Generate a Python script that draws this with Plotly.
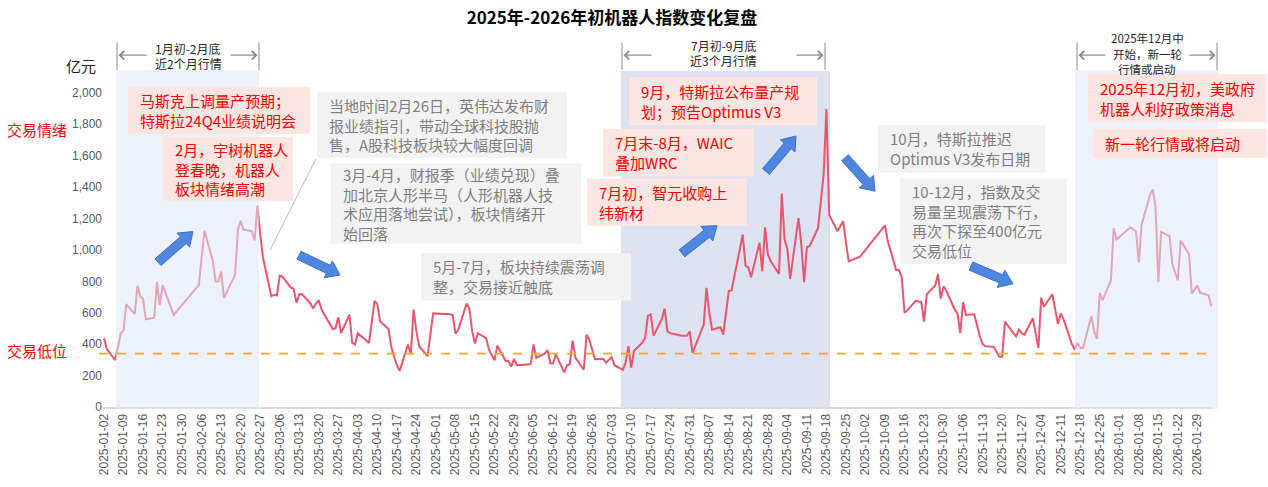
import math
import plotly.graph_objects as go

# ---------------- data (亿元, daily turnover) ----------------
dates = [
    "2025-01-02", "2025-01-03", "2025-01-06", "2025-01-08", "2025-01-09", "2025-01-10", "2025-01-13", "2025-01-14",
    "2025-01-15", "2025-01-16", "2025-01-17", "2025-01-20", "2025-01-21", "2025-01-22", "2025-01-23", "2025-01-27",
    "2025-02-05", "2025-02-07", "2025-02-10", "2025-02-11", "2025-02-12", "2025-02-13", "2025-02-14", "2025-02-17",
    "2025-02-18", "2025-02-19", "2025-02-20", "2025-02-21", "2025-02-24", "2025-02-25", "2025-02-26", "2025-02-27",
    "2025-02-28", "2025-03-03", "2025-03-04", "2025-03-05", "2025-03-06", "2025-03-07", "2025-03-10", "2025-03-11",
    "2025-03-12", "2025-03-13", "2025-03-14", "2025-03-17", "2025-03-18", "2025-03-19", "2025-03-20", "2025-03-21",
    "2025-03-24", "2025-03-25", "2025-03-26", "2025-03-27", "2025-03-28", "2025-03-31", "2025-04-01", "2025-04-02",
    "2025-04-03", "2025-04-07", "2025-04-08", "2025-04-09", "2025-04-10", "2025-04-11", "2025-04-14", "2025-04-15",
    "2025-04-16", "2025-04-17", "2025-04-18", "2025-04-21", "2025-04-22", "2025-04-23", "2025-04-24", "2025-04-25",
    "2025-04-28", "2025-04-29", "2025-04-30", "2025-05-06", "2025-05-07", "2025-05-08", "2025-05-09", "2025-05-12",
    "2025-05-13", "2025-05-14", "2025-05-15", "2025-05-16", "2025-05-19", "2025-05-20", "2025-05-21", "2025-05-22",
    "2025-05-23", "2025-05-26", "2025-05-27", "2025-05-28", "2025-05-29", "2025-05-30", "2025-06-03", "2025-06-04",
    "2025-06-05", "2025-06-06", "2025-06-09", "2025-06-10", "2025-06-11", "2025-06-12", "2025-06-13", "2025-06-16",
    "2025-06-17", "2025-06-18", "2025-06-19", "2025-06-20", "2025-06-23", "2025-06-24", "2025-06-25", "2025-06-26",
    "2025-06-27", "2025-06-30", "2025-07-01", "2025-07-02", "2025-07-03", "2025-07-04", "2025-07-07", "2025-07-08",
    "2025-07-09", "2025-07-10", "2025-07-11", "2025-07-14", "2025-07-15", "2025-07-16", "2025-07-17", "2025-07-18",
    "2025-07-21", "2025-07-22", "2025-07-23", "2025-07-24", "2025-07-25", "2025-07-28", "2025-07-29", "2025-07-30",
    "2025-07-31", "2025-08-01", "2025-08-04", "2025-08-05", "2025-08-06", "2025-08-07", "2025-08-08", "2025-08-11",
    "2025-08-12", "2025-08-13", "2025-08-14", "2025-08-15", "2025-08-18", "2025-08-19", "2025-08-20", "2025-08-21",
    "2025-08-22", "2025-08-25", "2025-08-26", "2025-08-27", "2025-08-28", "2025-08-29", "2025-09-01", "2025-09-02",
    "2025-09-03", "2025-09-04", "2025-09-05", "2025-09-08", "2025-09-09", "2025-09-10", "2025-09-11", "2025-09-12",
    "2025-09-15", "2025-09-16", "2025-09-17", "2025-09-18", "2025-09-19", "2025-09-22", "2025-09-23", "2025-09-24",
    "2025-09-25", "2025-09-26", "2025-09-29", "2025-09-30", "2025-10-09", "2025-10-10", "2025-10-13", "2025-10-14",
    "2025-10-15", "2025-10-16", "2025-10-17", "2025-10-20", "2025-10-21", "2025-10-22", "2025-10-23", "2025-10-24",
    "2025-10-27", "2025-10-28", "2025-10-29", "2025-10-30", "2025-10-31", "2025-11-03", "2025-11-04", "2025-11-05",
    "2025-11-06", "2025-11-07", "2025-11-10", "2025-11-11", "2025-11-12", "2025-11-13", "2025-11-14", "2025-11-17",
    "2025-11-18", "2025-11-19", "2025-11-20", "2025-11-21", "2025-11-24", "2025-11-25", "2025-11-26", "2025-11-27",
    "2025-11-28", "2025-12-01", "2025-12-02", "2025-12-03", "2025-12-04", "2025-12-05", "2025-12-08", "2025-12-09",
    "2025-12-10", "2025-12-11", "2025-12-12", "2025-12-15", "2025-12-16", "2025-12-17", "2025-12-18", "2025-12-19",
    "2025-12-22", "2025-12-23", "2025-12-24", "2025-12-25", "2025-12-26", "2025-12-29", "2025-12-30", "2025-12-31",
    "2026-01-05", "2026-01-06", "2026-01-07", "2026-01-08", "2026-01-09", "2026-01-12", "2026-01-13", "2026-01-14",
    "2026-01-15", "2026-01-16", "2026-01-19", "2026-01-20", "2026-01-21", "2026-01-22", "2026-01-23", "2026-01-26",
    "2026-01-27", "2026-01-28", "2026-01-29", "2026-01-30", "2026-02-02", "2026-02-03",
]
volume = [
    439, 370, 299, 470, 488, 655, 592, 772,
    705, 688, 559, 569, 795, 648, 778, 586,
    778, 1123, 930, 799, 799, 862, 694, 800,
    843, 1129, 1186, 1129, 1119, 1060, 1282, 1100,
    952, 705, 715, 710, 837, 830, 760, 753,
    663, 718, 718, 660, 627, 660, 680, 620,
    520, 496, 502, 571, 470, 588, 408, 398,
    470, 408, 540, 676, 655, 544, 496, 383,
    320, 265, 230, 398, 335, 621, 481, 387,
    324, 460, 596, 590, 586, 467, 492, 659,
    627, 481, 404, 470, 439, 366, 330, 297,
    391, 293, 293, 257, 307, 266, 270, 275,
    398, 314, 340, 362, 279, 279, 335, 220,
    266, 272, 423, 314, 237, 460, 429, 370,
    304, 307, 282, 300, 318, 266, 237, 282,
    387, 251, 356, 410, 439, 580, 590, 454,
    560, 627, 481, 470, 465, 454, 454, 454,
    481, 345, 480, 523, 759, 600, 492, 508,
    460, 600, 738, 743, 1000, 1098, 900, 889,
    826, 1046, 864, 1144, 973, 930, 847, 1359,
    1067, 1004, 816, 1203, 1035, 795, 1019, 1025,
    1140, 1300, 1479, 1897, 1223, 1119, 1150, 1182,
    1050, 927, 950, 956, 1157, 1056, 872, 872,
    826, 600, 615, 676, 672, 669, 544, 718,
    774, 847, 690, 768, 740, 620, 596, 470,
    669, 586, 590, 520, 450, 400, 387, 383,
    350, 320, 320, 544, 470, 450, 492, 470,
    460, 565, 470, 376, 696, 638, 718, 620,
    529, 596, 560, 400, 366, 408, 376, 376,
    580, 480, 433, 726, 680, 806, 1140, 1067,
    1144, 1130, 1119, 920, 1161, 1349, 1385, 1270,
    795, 1115, 1088, 910, 860, 806, 1060, 973,
    722, 750, 774, 726, 711, 642,
]
low_level = 340          # 交易低位 (亿元)
y_ticks = [0, 200, 400, 600, 800, 1000, 1200, 1400, 1600, 1800, 2000]

title_text = "2025年-2026年初机器人指数变化复盘"

# ---------------- layout helpers (pixel -> paper) ----------------
L, T, W, H = 103, 70, 1110, 342
def PX(x):
    return (x - L) / W
def PY(y):
    return (T + H - y) / H

CJK = "Noto Sans CJK SC"
LAT = "Liberation Sans"
LINE_RED = "#E8556D"
RED_TXT = "#FF0000"
PINK_BG = "#FDE5E1"
GRAY_BG = "#F2F2F2"
GRAY_TXT = "#7F7F7F"

fig = go.Figure()
fig.add_trace(go.Scatter(x=dates, y=volume, mode="lines",
                         line=dict(color=LINE_RED, width=2), hoverinfo="x+y"))

shapes = []
annotations = []

# shaded periods
shapes.append(dict(type="rect", xref="paper", yref="paper", x0=PX(621), x1=PX(830), y0=PY(414), y1=PY(71),
                   fillcolor="#DDE1F0", line_width=0, layer="below"))
for x0, x1 in [(116, 259), (1075, 1218)]:
    shapes.append(dict(type="rect", xref="paper", yref="paper", x0=PX(x0), x1=PX(x1), y0=PY(414), y1=PY(70),
                       fillcolor="#DEE7F6", opacity=0.55, line_width=0, layer="above"))

# low-level dashed line
shapes.append(dict(type="line", xref="paper", yref="y", x0=PX(99), x1=PX(1214), y0=low_level, y1=low_level,
                   line=dict(color="#F7A635", width=1.8, dash="dash"), layer="above"))

# connector line
shapes.append(dict(type="line", xref="paper", yref="paper", x0=PX(316), y0=PY(160), x1=PX(270), y1=PY(253),
                   line=dict(color="#C8C8C8", width=1.2), layer="above"))

# text boxes: (x0, y0, x1, y1, text, style, fontsize)
boxes = [
    (128, 87, 310, 135, "马斯克上调量产预期；<br>特斯拉24Q4业绩说明会", "red", 15),
    (163, 138, 293, 203, "2月，宇树机器人<br>登春晚，机器人<br>板块情绪高潮", "red", 15),
    (317, 92, 567, 159, "当地时间2月26日，英伟达发布财<br>报业绩指引，带动全球科技股抛<br>售，A股科技板块较大幅度回调", "gray", 15),
    (331, 165, 581, 246, "3月-4月，财报季（业绩兑现）叠<br>加北京人形半马（人形机器人技<br>术应用落地尝试），板块情绪开<br>始回落", "gray", 15),
    (421, 256, 631, 304, "5月-7月，板块持续震荡调<br>整，交易接近触底", "gray", 15),
    (587, 180, 747, 228, "7月初，智元收购上<br>纬新材", "red", 15),
    (603, 130, 754, 178, "7月末-8月，WAIC<br>叠加WRC", "red", 15),
    (629, 77, 817, 126, "9月，特斯拉公布量产规<br>划；预告Optimus V3", "red", 15),
    (878, 126, 1045, 174, "10月，特斯拉推迟<br>Optimus V3发布日期", "gray", 15),
    (900, 180, 1067, 267, "10-12月，指数及交<br>易量呈现震荡下行，<br>再次下探至400亿元<br>交易低位", "gray", 15),
    (1088, 74, 1267, 123, "2025年12月初，美政府<br>机器人利好政策消息", "red", 15),
    (1093, 130, 1267, 159, "新一轮行情或将启动", "red", 15),
]
for x0, y0, x1, y1, txt, style, fs in boxes:
    bg = PINK_BG if style == "red" else GRAY_BG
    col = RED_TXT if style == "red" else GRAY_TXT
    shapes.append(dict(type="rect", xref="paper", yref="paper", x0=PX(x0), x1=PX(x1), y0=PY(y1), y1=PY(y0),
                       fillcolor=bg, line_width=0, layer="above"))
    annotations.append(dict(xref="paper", yref="paper", x=PX(x0 + 10), y=PY((y0 + y1) / 2),
                            xanchor="left", yanchor="middle", align="left", showarrow=False,
                            text=txt, font=dict(family=CJK, size=fs, color=col)))

# blue block arrows
def block_arrow(x0, y0, x1, y1, shaft=4.5, head=9.5, hl=13):
    dx, dy = x1 - x0, y1 - y0
    ln = math.hypot(dx, dy)
    ux, uy = dx / ln, dy / ln
    nx, ny = -uy, ux
    bx, by = x1 - ux * hl, y1 - uy * hl
    pts = [(x0 + nx * shaft, y0 + ny * shaft), (bx + nx * shaft, by + ny * shaft),
           (bx + nx * head, by + ny * head), (x1, y1),
           (bx - nx * head, by - ny * head), (bx - nx * shaft, by - ny * shaft),
           (x0 - nx * shaft, y0 - ny * shaft)]
    path = "M " + " L ".join(f"{PX(px):.5f},{PY(py):.5f}" for px, py in pts) + " Z"
    return dict(type="path", xref="paper", yref="paper", path=path,
                fillcolor="#4F86DF", line=dict(color="#3D70C8", width=1), layer="above")

for a in [(158, 265, 193, 234), (299, 258, 340, 278), (682, 256, 717, 228),
          (766, 173, 796, 137), (845, 159, 875, 193), (971, 269, 1013, 287)]:
    shapes.append(block_arrow(*a))

# top brackets
brackets = [
    (117, 259, 148, 229, 55, [("1月初-2月底", 48), ("近2个月行情", 63)], 12),
    (622, 825, 653, 795, 55, [("7月初-9月底", 45), ("近3个月行情", 60)], 12),
    (1077, 1217, 1107, 1188, 55, [("2025年12月中", 38), ("开始，新一轮", 54), ("行情或启动", 69)], 11.5),
]
for xl, xr, tl, tr, ya, lines, fs in brackets:
    for xv in (xl, xr):
        shapes.append(dict(type="line", xref="paper", yref="paper", x0=PX(xv), x1=PX(xv), y0=PY(70), y1=PY(42),
                           line=dict(color="#A6A6A6", width=1.3)))
    annotations.append(dict(xref="paper", yref="paper", x=PX(xl + 1.5), y=PY(ya), ax=tl - (xl + 1.5), ay=0,
                            showarrow=True, arrowhead=4, arrowsize=1.3, arrowwidth=1.3,
                            arrowcolor="#8C8C8C", text=""))
    annotations.append(dict(xref="paper", yref="paper", x=PX(xr - 1.5), y=PY(ya), ax=tr - (xr - 1.5), ay=0,
                            showarrow=True, arrowhead=4, arrowsize=1.3, arrowwidth=1.3,
                            arrowcolor="#8C8C8C", text=""))
    for t, yy in lines:
        annotations.append(dict(xref="paper", yref="paper", x=PX((xl + xr) / 2), y=PY(yy),
                                xanchor="center", yanchor="middle", showarrow=False, text=t,
                                font=dict(family=CJK, size=fs, color="#262626")))

# side labels
annotations += [
    dict(xref="paper", yref="paper", x=PX(98), y=PY(65), xanchor="right", yanchor="middle", showarrow=False,
         text="亿元", font=dict(family=CJK, size=15, color="#262626")),
    dict(xref="paper", yref="paper", x=PX(5), y=PY(130), xanchor="left", yanchor="middle", showarrow=False,
         text="交易情绪", font=dict(family=CJK, size=15, color=RED_TXT)),
    dict(xref="paper", yref="paper", x=PX(5), y=PY(355), xanchor="left", yanchor="middle", showarrow=False,
         text="交易低位", font=dict(family=CJK, size=15, color=RED_TXT)),
]

fig.update_layout(
    width=1268, height=487,
    margin=dict(l=L, r=1268 - L - W, t=T, b=487 - T - H),
    paper_bgcolor="white", plot_bgcolor="white",
    showlegend=False,
    title=dict(text="<b>" + title_text + "</b>", x=612 / 1268, xanchor="center", y=1 - 18 / 487, yanchor="middle",
               font=dict(family=CJK, size=17, color="#000000")),
    shapes=shapes, annotations=annotations,
    xaxis=dict(type="date", range=["2025-01-01 15:20", "2026-02-03 14:20"],
               tick0="2025-01-02", dtick=7 * 24 * 3600 * 1000, tickformat="%Y-%m-%d",
               tickangle=-90, tickfont=dict(family=LAT, size=12, color="#595959"),
               showgrid=False, zeroline=False, showline=True, linecolor="#D9D9D9", linewidth=2,
               ticks=""),
    yaxis=dict(range=[0, H / 0.1594], tickvals=y_ticks, separatethousands=True,
               tickfont=dict(family=LAT, size=12, color="#595959"),
               showgrid=False, zeroline=False, showline=False, ticks=""),
)

fig.write_html("out.html")
